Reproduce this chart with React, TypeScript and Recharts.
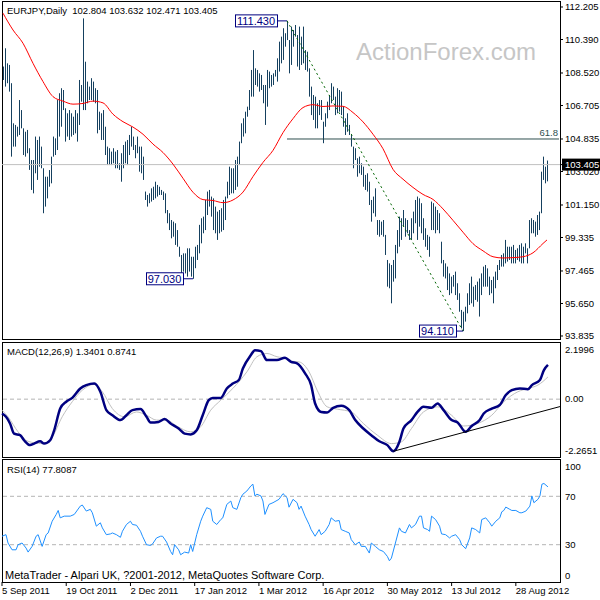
import React from 'react'
import { ComposedChart, Bar, Line, XAxis, YAxis, ReferenceLine, ReferenceDot } from 'recharts'

const FONT = "Tahoma, 'Liberation Sans', Arial, sans-serif"

// EURJPY daily bars, 5 Sep 2011 onwards (one value per bar)
const highs = [
  108.88, 109.9, 109.06, 108.97, 107.95, 105.71, 105.62, 105.52, 107.01, 106.45,
  105.43, 105.24, 105.34, 104.32, 103.66, 103.66, 104.97, 104.78, 104.97, 104.41,
  103.2, 102.73, 102.73, 103.1, 103.85, 104.97, 104.87, 107.01, 107.39, 107.67,
  107.57, 106.55, 106.27, 106.45, 106.27, 106.08, 106.45, 106.27, 108.13, 107.85,
  111.57, 109.15, 108.04, 107.76, 108.23, 108.04, 107.67, 107.57, 106.36, 106.27,
  106.45, 105.52, 104.41, 104.32, 104.13, 104.32, 104.13, 104.22, 103.48, 104.04,
  104.5, 104.69, 104.78, 105.06, 105.52, 104.97, 104.5, 104.97, 104.41,
  104.41, 103.85, 101.9, 101.71, 101.8, 102.08, 102.17, 102.45, 102.27, 102.17,
  101.99, 101.9, 101.8, 100.87, 100.69, 100.31, 100.22, 100.13, 99.75, 98.82,
  98.36, 98.45, 98.45, 98.73, 98.73, 98.26, 98.26, 98.82, 98.92, 100.04,
  100.41, 100.5, 101.43, 101.9, 101.99, 101.62, 101.52, 101.06, 100.78, 100.87,
  100.97, 101.43, 101.62, 102.45, 103.29, 103.2, 103.2, 103.66, 103.85, 104.69,
  105.71, 105.99, 106.36, 106.64, 107.57, 108.69, 109.8, 108.78, 108.69, 108.5,
  108.41, 107.85, 107.85, 108.69, 108.6, 108.41, 108.5, 108.69, 109.34,
  110.27, 110.55, 111.02, 110.74, 111.43, 110.36, 111.11, 110.92, 111.2, 110.64,
  111.11, 110.55, 111.11, 109.8, 109.71, 108.78, 107.76, 107.29, 107.2, 106.83,
  107.01, 107.01, 105.8, 106.27, 106.92, 107.29, 107.95, 107.76, 107.2, 107.67,
  107.57, 107.48, 106.64, 105.99, 106.27, 105.62, 105.06, 104.41, 104.32, 103.76,
  103.85, 103.48, 103.29, 102.83, 102.92, 102.45, 101.43, 101.62, 102.08, 100.31,
  100.31, 100.22, 100.31, 99.48, 98.08, 97.89, 97.8, 98.08, 98.92, 99.75,
  100.5, 100.41, 100.87, 100.41, 100.31, 99.75, 100.41, 100.78,
  101.43, 101.62, 101.52, 101.25, 100.41, 99.85, 99.48, 99.38, 101.34, 101.25,
  101.06, 100.87, 100.69, 99.1, 98.08, 97.89, 97.71, 97.33, 97.15, 97.24,
  97.43, 96.78, 96.22, 95.29, 95.19, 95.47, 96.22, 96.78, 97.15, 96.59,
  96.68, 96.87, 97.05, 97.33, 97.71, 97.8, 97.61, 97.15, 96.96, 97.15,
  97.43, 97.8, 98.08, 98.36, 98.45, 99.2, 98.82, 98.82, 98.82, 98.92,
  98.64, 98.73, 98.92, 99.01, 98.82, 99.01, 98.73, 100.31, 100.41, 100.31,
  100.22, 100.59, 100.78, 103.01, 103.85, 103.29, 103.632,
]

const lows = [
  108.13, 107.76, 107.95, 107.48, 103.85, 104.41, 104.41, 104.97, 105.06, 105.43,
  103.94, 103.85, 104.04, 103.11, 101.99, 101.8, 102.92, 102.55, 103.29, 103.2,
  100.69, 101.06, 101.52, 102.17, 102.36, 103.85, 103.94, 104.22, 104.97, 105.52,
  106.45, 104.69, 104.97, 104.78, 104.97, 105.06, 105.15, 104.69, 105.62, 106.92,
  106.45, 106.45, 106.83, 107.01, 107.01, 106.92, 106.83, 105.15, 105.34, 104.78,
  104.78, 103.94, 103.38, 103.38, 103.38, 103.48, 103.2, 103.2, 103.11, 102.45,
  103.2, 103.48, 103.38, 103.94, 104.41, 104.22, 103.76, 104.04, 103.01,
  102.92, 102.55, 101.43, 101.06, 101.25, 101.34, 101.43, 101.52, 101.62, 101.71,
  101.71, 101.43, 100.69, 100.13, 99.75, 99.29, 99.38, 98.92, 98.82, 98.26,
  97.33, 97.43, 97.33, 97.15, 97.43, 97.15, 97.03, 97.62, 98.08, 98.45,
  99.01, 99.57, 99.75, 100.59, 101.06, 100.5, 99.75, 99.57, 99.2, 99.57,
  99.66, 99.75, 100.31, 101.52, 101.71, 101.8, 101.8, 101.99, 102.17, 103.38,
  104.6, 104.97, 105.15, 106.08, 106.45, 107.2, 107.2, 107.85, 107.76, 107.48,
  107.57, 106.83, 105.62, 106.64, 107.67, 107.76, 107.85, 108.32, 108.04,
  108.6, 109.06, 109.25, 109.99, 110.36, 108.5, 108.97, 109.99, 110.55, 108.88,
  108.69, 108.97, 109.06, 108.69, 108.6, 107.2, 106.17, 105.9, 105.43, 105.43,
  106.17, 105.9, 104.6, 105.52, 105.99, 106.45, 106.83, 107.01, 106.17, 106.27,
  106.36, 106.17, 105.52, 105.06, 105.24, 105.06, 104.41, 103.2, 103.66, 102.73,
  102.92, 102.83, 102.17, 101.99, 101.9, 101.15, 100.22, 100.69, 100.5, 99.48,
  99.38, 99.48, 99.38, 98.36, 96.59, 96.5, 95.66, 96.87, 97.05, 98.45,
  98.82, 99.2, 99.94, 99.38, 99.57, 99.2, 99.2, 99.57,
  100.13, 99.2, 99.94, 99.57, 99.2, 98.82, 98.64, 98.26, 99.75, 99.75,
  99.57, 99.75, 99.57, 97.89, 97.15, 97.05, 96.4, 96.12, 96.22, 96.59,
  96.12, 95.85, 95.19, 94.26, 94.11, 94.64, 95.1, 95.57, 95.66, 95.47,
  95.85, 95.75, 94.92, 96.12, 96.59, 96.59, 96.59, 96.12, 96.22, 95.66,
  96.5, 96.96, 97.52, 97.71, 97.71, 97.89, 97.99, 98.08, 97.89, 97.89,
  97.89, 98.08, 97.99, 97.89, 97.89, 98.45, 97.89, 98.73, 99.57, 99.57,
  99.38, 99.48, 99.75, 100.69, 102.55, 102.36, 102.471,
]

// moving average, read every 5 bars: [bar, value]
const maPoints = [
  [0, 111.86], [5, 110.92], [10, 110.18], [15, 109.06], [20, 108.04], [25, 107.2], [30, 106.95],
  [35, 106.78], [40, 106.82], [45, 106.95], [50, 106.85], [55, 106.22], [60, 105.8], [65, 105.5],
  [70, 105.1], [75, 104.55], [80, 104.08], [85, 103.43], [90, 102.64], [95, 101.86], [100, 101.45],
  [105, 101.4], [110, 101.28], [115, 101.43], [120, 101.87], [125, 102.74], [130, 103.53],
  [135, 104.2], [140, 105.19], [145, 105.97], [150, 106.59], [155, 106.75], [160, 106.65],
  [165, 106.68], [170, 106.66], [175, 106.31], [180, 105.79], [185, 105.1], [190, 104.29],
  [195, 103.14], [200, 102.59], [205, 102.13], [210, 101.74], [215, 101.46], [220, 100.93],
  [225, 100.29], [230, 99.63], [235, 98.99], [240, 98.59], [245, 98.26], [250, 98.19],
  [255, 98.21], [260, 98.26], [265, 98.48], [270, 99.0], [272, 99.2],
]

// MACD(12,26,9) main line and signal: [bar, value]
const macdPoints = [
  [0, -0.56], [2, -0.69], [4, -0.95], [6, -1.35], [9, -1.41], [11, -1.61], [14, -1.8], [16, -1.74],
  [19, -1.65], [21, -1.74], [24, -1.61], [26, -1.22], [29, -0.37], [32, -0.1], [35, 0.05], [39, 0.42],
  [42, 0.55], [46, 0.61], [49, 0.29], [52, -0.43], [55, -0.63], [59, -0.82], [62, -0.63], [65, -0.43],
  [69, -0.39], [72, -0.69], [74, -0.91], [78, -0.89], [81, -0.78], [84, -0.95], [88, -1.15], [91, -1.35],
  [94, -1.38], [97, -1.22], [100, -0.63], [103, -0.04], [105, 0.05], [109, 0.05], [112, 0.42], [115, 0.61],
  [118, 0.75], [120, 1.2], [124, 1.73], [126, 1.92], [129, 1.88], [132, 1.53], [137, 1.53], [141, 1.62],
  [144, 1.46], [147, 1.4], [151, 1.01], [154, 0.55], [156, -0.17], [159, -0.5], [162, -0.52], [165, -0.34],
  [169, -0.26], [173, -0.43], [176, -0.82], [180, -1.15], [184, -1.41], [188, -1.65], [192, -1.8],
  [195, -2.04], [198, -1.67], [200, -1.15], [204, -0.82], [207, -0.5], [210, -0.3], [214, -0.34],
  [217, -0.17], [220, -0.43], [224, -0.82], [227, -0.91], [231, -1.28], [234, -1.05], [238, -0.82],
  [240, -0.56], [244, -0.37], [248, -0.23], [251, 0.16], [254, 0.35], [258, 0.42], [262, 0.39],
  [264, 0.55], [268, 0.75], [270, 1.14], [272, 1.34],
]

const signalPoints = [
  [0, -0.43], [3, -0.69], [8, -1.28], [13, -1.65], [20, -1.74], [25, -1.48], [30, -0.69], [35, -0.1],
  [40, 0.35], [46, 0.58], [50, 0.29], [55, -0.37], [61, -0.69], [67, -0.5], [72, -0.63], [77, -0.82],
  [82, -0.82], [87, -1.05], [94, -1.28], [99, -1.08], [104, -0.43], [109, -0.04], [115, 0.42],
  [122, 1.07], [127, 1.66], [132, 1.79], [137, 1.66], [142, 1.6], [144, 1.49], [148, 1.46], [153, 1.07],
  [157, 0.35], [162, -0.3], [167, -0.39], [174, -0.5], [180, -0.95], [187, -1.41], [194, -1.74],
  [199, -1.67], [204, -1.15], [210, -0.5], [217, -0.3], [224, -0.63], [230, -1.05], [237, -0.95],
  [244, -0.63], [250, -0.1], [257, 0.29], [262, 0.42], [267, 0.55], [272, 0.87],
]

// RSI(14): [bar, value]
const rsiPoints = [
  [0, 37], [2, 38.3], [3, 31.4], [5, 25.8], [7, 25.8], [8, 30], [10, 31.4], [12, 27.2], [13, 23.9],
  [15, 28.6], [17, 37], [18, 38.3], [20, 28.6], [22, 38.3], [23, 39.7], [25, 49.4], [27, 55], [28, 58.3],
  [29, 52.2], [31, 53.6], [34, 53.6], [36, 55], [39, 61.9], [40, 62.8], [42, 57.8], [44, 59.2], [45, 56.4],
  [47, 45.3], [49, 48.1], [50, 43.9], [52, 38.3], [54, 38.9], [55, 39.7], [57, 38.3], [59, 36.1], [60, 41.1],
  [62, 46.7], [64, 49.4], [65, 46.7], [67, 46.1], [69, 41.1], [70, 37], [72, 30], [74, 29.4], [75, 30.6],
  [77, 35.6], [79, 37], [80, 37], [82, 32.2], [84, 24.4], [85, 21.7], [86, 30], [88, 25.8], [89, 21.7],
  [91, 23.9], [93, 23.1], [94, 30], [95, 24.4], [97, 38.3], [99, 49.4], [100, 53.6], [102, 60.6],
  [104, 59.2], [105, 49.4], [107, 46.7], [109, 50.8], [110, 52.2], [112, 63.3], [114, 66.1], [115, 60.6],
  [117, 59.2], [119, 68.9], [120, 71.7], [122, 74.4], [124, 78.6], [125, 80], [126, 70.3], [127, 71.7],
  [129, 70.3], [130, 66.1], [131, 55], [133, 63.3], [135, 64.7], [138, 67.5], [140, 72.2], [142, 68.9],
  [143, 61], [145, 67.5], [147, 64.7], [148, 59.2], [149, 61.9], [151, 53.6], [153, 46.7], [154, 42.5],
  [156, 37], [158, 42.5], [159, 38.3], [161, 41.1], [163, 46.7], [164, 52.2], [166, 49.4], [168, 50],
  [169, 42.5], [171, 41.1], [173, 39.7], [174, 34.2], [176, 30], [178, 32.2], [179, 28.6], [181, 28.6],
  [183, 23.1], [184, 31.4], [186, 28.6], [188, 25.8], [190, 24.4], [192, 20.3], [193, 16.7], [194, 18.9],
  [196, 31.4], [198, 43.9], [199, 41.1], [201, 39.7], [203, 46.7], [204, 43.9], [206, 46.7], [208, 53.6],
  [209, 53.6], [210, 43.9], [212, 42.5], [213, 41.1], [214, 53.6], [216, 50.8], [218, 45.3], [219, 38.9],
  [221, 38.3], [223, 35.6], [224, 37], [226, 38.3], [228, 34.2], [229, 30], [231, 26.7], [233, 35.6],
  [234, 43.9], [236, 42.5], [238, 39.7], [239, 50.8], [241, 52.2], [243, 48.1], [244, 45.3], [246, 49.4],
  [248, 52.2], [249, 57.2], [250, 58.3], [251, 61.1], [253, 59.2], [254, 58.3], [256, 58.3], [258, 56.4],
  [259, 56.4], [261, 57.8], [263, 61.9], [264, 70.3], [265, 64.7], [267, 67.5], [268, 70.3], [269, 80],
  [270, 80.6], [272, 77.8],
]

const priceTicks = [112.205, 110.39, 108.52, 106.705, 104.835, 103.02, 101.15, 99.335, 97.465, 95.65, 93.835]
const lastClose = 103.405
const fibLevel = 104.835
const macdTicks = [2.1996, 0, -2.2651]
const rsiTicks = [100, 70, 30, 0]
const rsiLevels = [70, 30]

const swings = [
  { bar: 142, price: 111.43, text: '111.430', w: 42, gap: 10 },
  { bar: 95, price: 97.03, text: '97.030', w: 37, gap: 10 },
  { bar: 230, price: 94.11, text: '94.110', w: 37, gap: 7 },
]
const trendFrom = { bar: 142, price: 111.43 }
const trendTo = { bar: 230, price: 94.11 }
const macdTrend = [{ bar: 195, v: -2.04 }, { bar: 278, v: -0.29 }]

const dateTickIdx = [0, 32, 64, 96, 128, 160, 192, 224, 256]
const dateLabels = ['5 Sep 2011', '19 Oct 2011', '2 Dec 2011', '17 Jan 2012', '1 Mar 2012', '16 Apr 2012', '30 May 2012', '13 Jul 2012', '28 Aug 2012']

const SLOTS = 279 // bars plus empty space on the right

const rows: any[] = Array.from({ length: SLOTS }, (_, i) => ({
  i,
  hl: i < highs.length ? [lows[i], highs[i]] : undefined,
}))
for (const [i, v] of maPoints) rows[i].ma = v
for (const [i, v] of macdPoints) rows[i].macd = v
for (const [i, v] of signalPoints) rows[i].signal = v
for (const [i, v] of rsiPoints) rows[i].rsi = v

const txt = { fontFamily: FONT, fontSize: 9.5, fill: '#000' }

function HLBar(p: any) {
  if (!Number.isFinite(p.y) || !Number.isFinite(p.height)) return null
  const cx = Math.floor(p.x + p.width / 2)
  const top = Math.min(p.y, p.y + p.height)
  return <rect x={cx} y={top} width={1} height={Math.max(1, Math.abs(p.height))} fill="#15405f" />
}

function PriceTick(p: any) {
  const v = p.payload.value
  if (v === lastClose) {
    return (
      <g>
        <rect x={p.x - 3} y={p.y - 6} width={40} height={12} fill="#000" />
        <text x={p.x} y={p.y} dy="0.35em" {...txt} fill="#fff">{v.toFixed(3)}</text>
      </g>
    )
  }
  return <text x={p.x} y={p.y} dy="0.35em" {...txt}>{v.toFixed(3)}</text>
}

function MacdTick(p: any) {
  const v = p.payload.value
  const dy = v === macdTicks[0] ? 7 : v === macdTicks[2] ? -6 : 0
  return <text x={p.x} y={p.y + dy} dy="0.35em" {...txt}>{v === 0 ? '0.00' : v.toFixed(4)}</text>
}

function RsiTick(p: any) {
  const v = p.payload.value
  const dy = v === 100 ? 7 : v === 0 ? -5 : 0
  return <text x={p.x} y={p.y + dy} dy="0.35em" {...txt}>{v}</text>
}

function DateTick(p: any) {
  const k = dateTickIdx.indexOf(p.payload.value)
  return (
    <g>
      <line x1={p.x} x2={p.x} y1={p.y + 1} y2={p.y + 5} stroke="#000" />
      <text x={p.x} y={p.y + 10} dy="0.35em" {...txt}>{dateLabels[k]}</text>
    </g>
  )
}

function SwingTag({ cx, cy, text, w, gap }: any) {
  return (
    <g>
      <line x1={cx - gap} x2={cx} y1={cy} y2={cy} stroke="#000080" />
      <rect x={cx - gap - w + 0.5} y={cy - 6} width={w} height={12} fill="#fff" stroke="#000080" />
      <text x={cx - gap - w / 2} y={cy} dy="0.35em" textAnchor="middle" fontFamily={FONT} fontSize={11} fill="#000080">{text}</text>
    </g>
  )
}

const frame = (top: number, height: number): React.CSSProperties => ({
  position: 'absolute', left: 2, top, width: 559, height, border: '1px solid #000', boxSizing: 'border-box',
})
const label = (left: number, top: number, size: number): React.CSSProperties => ({
  position: 'absolute', left, top, fontFamily: FONT, fontSize: size, lineHeight: `${size + 3}px`, color: '#000', whiteSpace: 'pre',
})

export default function App() {
  return (
    <div style={{ position: 'absolute', left: 0, top: 0, width: 600, height: 600, background: '#fff', overflow: 'hidden' }}>
      <div style={frame(1, 339)} />
      <div style={frame(342, 116)} />
      <div style={frame(459, 124)} />

      <div style={{ position: 'absolute', left: 0, top: 0 }}>
        <ComposedChart width={600} height={340} data={rows} margin={{ top: 1.5, right: 0, bottom: 1, left: 2 }}>
          <XAxis dataKey="i" type="category" hide />
          <YAxis orientation="right" type="number" domain={[93.667, 112.512]} allowDataOverflow ticks={[...priceTicks, lastClose]}
            interval={0} width={40} axisLine={false} tickLine={{ stroke: '#000' }} tickSize={3} tickMargin={2}
            tick={(p: any) => <PriceTick {...p} />} />
          <ReferenceLine y={lastClose} stroke="#c0c0c0" />
          <ReferenceLine segment={[{ x: trendFrom.bar, y: fibLevel }, { x: SLOTS - 1, y: fibLevel }]} stroke="#2f4f4f" />
          <Bar dataKey="hl" isAnimationActive={false} shape={(p: any) => <HLBar {...p} />} />
          <Line dataKey="ma" type="monotone" stroke="#ff0000" strokeWidth={1} dot={false} connectNulls isAnimationActive={false} />
          <ReferenceLine segment={[{ x: trendFrom.bar, y: trendFrom.price }, { x: trendTo.bar, y: trendTo.price }]}
            stroke="#006400" strokeDasharray="2 3" isFront />
          <ReferenceDot x={SLOTS - 1} y={fibLevel} r={0} isFront
            shape={(p: any) => <text x={p.cx - 1} y={p.cy - 3} textAnchor="end" {...txt} fill="#2f4f4f">61.8</text>} />
          {swings.map((s) => (
            <ReferenceDot key={s.text} x={s.bar} y={s.price} r={0} isFront
              shape={(p: any) => <SwingTag cx={p.cx} cy={p.cy} text={s.text} w={s.w} gap={s.gap} />} />
          ))}
        </ComposedChart>
      </div>

      <div style={{ position: 'absolute', left: 0, top: 342 }}>
        <ComposedChart width={600} height={116} data={rows} margin={{ top: 1, right: 0, bottom: 1, left: 2 }}>
          <XAxis dataKey="i" type="category" hide />
          <YAxis orientation="right" type="number" domain={[macdTicks[2], macdTicks[0]]} allowDataOverflow ticks={macdTicks}
            interval={0} width={40} axisLine={false} tickLine={false} tickSize={3} tickMargin={2}
            tick={(p: any) => <MacdTick {...p} />} />
          <ReferenceLine y={0} stroke="#b4b4b4" strokeDasharray="4 3" />
          <Line dataKey="signal" type="monotone" stroke="#c0c0c0" strokeWidth={1} dot={false} connectNulls isAnimationActive={false} />
          <Line dataKey="macd" type="monotone" stroke="#000080" strokeWidth={2.5} dot={false} connectNulls isAnimationActive={false} />
          <ReferenceLine segment={[{ x: macdTrend[0].bar, y: macdTrend[0].v }, { x: macdTrend[1].bar, y: macdTrend[1].v }]}
            stroke="#000" isFront />
        </ComposedChart>
      </div>

      <div style={{ position: 'absolute', left: 0, top: 459 }}>
        <ComposedChart width={600} height={141} data={rows} margin={{ top: 1, right: 0, bottom: 0, left: 2 }}>
          <XAxis dataKey="i" type="category" ticks={dateTickIdx} interval={0} height={19} axisLine={false} tickLine={false}
            tickSize={0} tickMargin={0} tick={(p: any) => <DateTick {...p} />} />
          <YAxis orientation="right" type="number" domain={[0, 100]} allowDataOverflow ticks={rsiTicks}
            interval={0} width={40} axisLine={false} tickLine={false} tickSize={3} tickMargin={2}
            tick={(p: any) => <RsiTick {...p} />} />
          {rsiLevels.map((lv) => (
            <ReferenceLine key={lv} y={lv} stroke="#b4b4b4" strokeDasharray="4 3" />
          ))}
          <Line dataKey="rsi" type="linear" stroke="#1e90ff" strokeWidth={1} dot={false} connectNulls isAnimationActive={false} />
        </ComposedChart>
      </div>

      <div style={{ ...label(356, 38, 24), color: '#c6c6c6' }}>ActionForex.com</div>
      <div style={label(7, 5, 9.5)}>{'EURJPY,Daily  102.804 103.632 102.471 103.405'}</div>
      <div style={label(7, 346, 9.5)}>MACD(12,26,9) 1.3401 0.8741</div>
      <div style={label(7, 464, 9.5)}>RSI(14) 77.8087</div>
      <div style={label(5, 568, 11)}>MetaTrader - Alpari UK, ?2001-2012, MetaQuotes Software Corp.</div>
    </div>
  )
}
